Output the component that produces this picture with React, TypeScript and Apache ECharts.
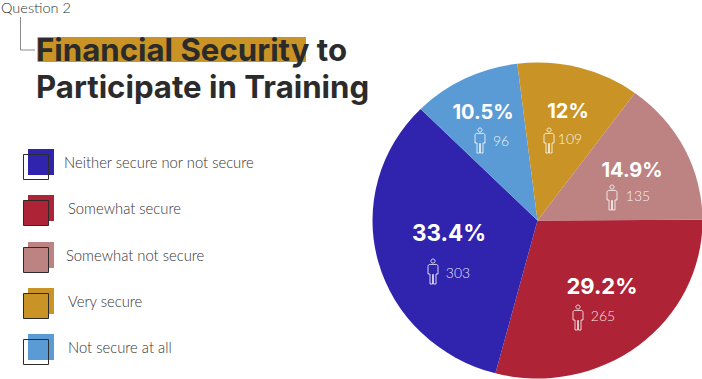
import React, { useEffect, useRef } from "react";
import * as echarts from "echarts";

const categories = ["Somewhat secure", "Neither secure nor not secure", "Not secure at all", "Very secure", "Somewhat not secure"];
const counts = [265, 303, 96, 109, 135];
const percents = ["29.2%", "33.4%", "10.5%", "12%", "14.9%"];
const colors = ["#AE2335", "#3023AE", "#5B9BD5", "#C99425", "#BD8383"];

const legendOrder = [1, 0, 4, 3, 2];
const legendTextX = [64, 68, 66, 68, 68];
const legendBoxY = [149, 195, 242, 288, 334];
const legendBoxFilled = [false, true, true, true, false];

const percentSizes = [22, 22.5, 20, 20, 20];
// centre x/y of percent, icon x/top, count centre x/y
const labelPlaces = [
  [602, 286, 578, 305, 603, 315],
  [449, 232, 433, 259, 458, 272],
  [483, 112, 480, 128, 501, 140],
  [568, 111, 549, 128, 570, 138],
  [632, 170, 612, 185, 638, 195],
];

const TITLE_FONT = "Inter";
const BODY_FONT = "Lato";
const INK = "#2b2b2b";

const PIE_CX = 537.5;
const PIE_CY = 220.5;
const PIE_RX = 165;
const PIE_RY = 158;

const PERSON =
  "M5 0 C6.2 0 7.1 0.9 7.1 2 C7.1 3.1 6.2 4 5 4 C3.8 4 2.9 3.1 2.9 2 C2.9 0.9 3.8 0 5 0 Z " +
  "M2 5.4 L8 5.4 C9.2 5.4 10 6.2 10 7.4 L10 15 L8 15 L8 25 L5.4 25 L5.4 15.5 L4.6 15.5 L4.6 25 L2 25 L2 15 L0 15 L0 7.4 C0 6.2 0.8 5.4 2 5.4 Z";
echarts.graphic.registerShape("personIcon", echarts.graphic.extendPath(PERSON, {}) as any);

export default function App() {
  const pieRef = useRef<HTMLDivElement>(null);
  const ref = useRef<HTMLDivElement>(null);
  useEffect(() => {
    const pie = echarts.init(pieRef.current!, undefined, { renderer: "svg" });
    const chart = echarts.init(ref.current!, undefined, { renderer: "svg" });

    const graphic: any[] = [
      { type: "rect", shape: { x: 37.5, y: 37, width: 268.5, height: 25 }, style: { fill: "#C99425" }, z: 1 },
      { type: "polyline", shape: { points: [[20.5, 17], [20.5, 50], [35, 50]] }, style: { stroke: "#8a8a8a", fill: "none", lineWidth: 1 }, z: 1 },
      { type: "text", x: 1, y: 7, style: { text: "Question 2", font: `300 14.5px ${BODY_FONT}`, fill: "#333", verticalAlign: "middle" }, z: 2 },
      { type: "text", x: 36, y: 50, style: { text: "Financial Security to", font: `700 31.2px ${TITLE_FONT}`, fill: INK, verticalAlign: "middle" }, z: 2 },
      { type: "text", x: 36, y: 87, style: { text: "Participate in Training", font: `700 31.2px ${TITLE_FONT}`, fill: INK, verticalAlign: "middle" }, z: 2 },
    ];
    legendOrder.forEach((idx, i) => {
      const y = legendBoxY[i];
      graphic.push(
        { type: "rect", shape: { x: 28, y, width: 26, height: 26 }, style: { fill: colors[idx] }, z: 1 },
        { type: "rect", shape: { x: 23.5, y: y + 5.5, width: 25, height: 25 }, style: { fill: legendBoxFilled[i] ? colors[idx] : "none", stroke: INK, lineWidth: 1 }, z: 2 },
        { type: "text", x: legendTextX[i], y: y + 13, style: { text: categories[idx], font: `300 14.8px ${BODY_FONT}`, fill: "#333", verticalAlign: "middle" }, z: 2 }
      );
    });
    categories.forEach((_, i) => {
      const [px, py, ix, iy, cx, cy] = labelPlaces[i];
      graphic.push(
        { type: "text", x: px, y: py, style: { text: percents[i], font: `700 ${percentSizes[i]}px ${TITLE_FONT}`, fill: "#fff", align: "center", verticalAlign: "middle" }, z: 5 },
        { type: "personIcon", x: ix - 5, y: iy, style: { fill: "none", stroke: "#fff", lineWidth: 0.8 }, z: 5 },
        { type: "text", x: cx, y: cy, style: { text: String(counts[i]), font: `300 14px ${BODY_FONT}`, fill: "#fff", opacity: 0.9, align: "center", verticalAlign: "middle" }, z: 5 }
      );
    });

    pie.setOption({
      animation: false,
      series: [
        {
          type: "pie",
          center: [PIE_CX, PIE_CY],
          radius: [0, PIE_RX],
          startAngle: 0.3,
          clockwise: true,
          label: { show: false },
          labelLine: { show: false },
          silent: true,
          data: categories.map((name, i) => ({ name, value: counts[i], itemStyle: { color: colors[i] } })),
        },
      ],
    });
    chart.setOption({ animation: false, backgroundColor: "transparent", graphic });
    return () => {
      pie.dispose();
      chart.dispose();
    };
  }, []);
  return (
    <div style={{ position: "absolute", left: 0, top: 0, width: 702, height: 379, overflow: "hidden", background: "#fff" }}>
      <div
        ref={pieRef}
        style={{
          position: "absolute",
          left: 0,
          top: 0,
          width: 720,
          height: 400,
          transformOrigin: `0 ${PIE_CY}px`,
          transform: `scaleY(${PIE_RY / PIE_RX})`,
        }}
      />
      <div ref={ref} style={{ position: "absolute", left: 0, top: 0, width: 702, height: 379 }} />
    </div>
  );
}
